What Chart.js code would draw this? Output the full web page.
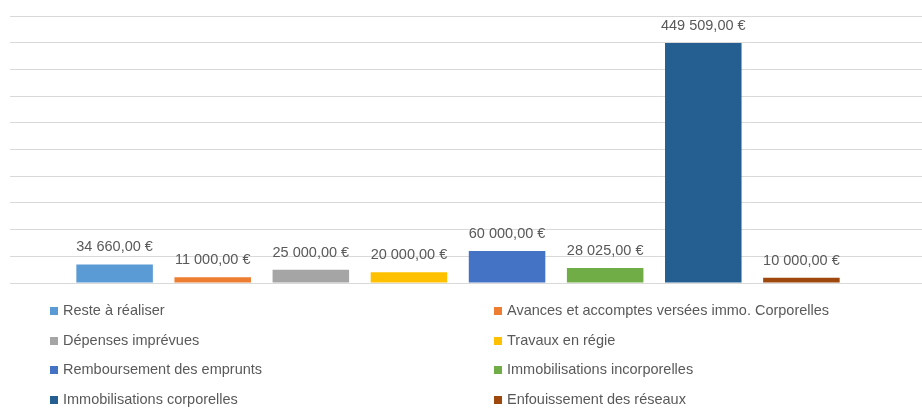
<!DOCTYPE html>
<html>
<head>
<meta charset="utf-8">
<script src="https://cdn.jsdelivr.net/npm/chart.js@4.4.1/dist/chart.umd.min.js"></script>
<style>
    html, body {
        margin: 0;
        padding: 0;
        background: #fff;
        width: 922px;
        height: 408px;
        overflow: hidden;
        font-family: "Liberation Sans", Arial, sans-serif;
    }
    #wrap {
        position: relative;
        width: 922px;
        height: 300px;
    }
    #legend {
        position: absolute;
        left: 0;
        top: 0;
        width: 922px;
        height: 408px;
        pointer-events: none;
    }
    .item {
        position: absolute;
        font-size: 14.5px;
        color: #595959;
        line-height: 16px;
        white-space: nowrap;
    }
    .item span {
        display: inline-block;
        width: 8px;
        height: 8px;
        margin-right: 5px;
        vertical-align: 0px;
    }
</style>
</head>
<body>
<div id="wrap"><canvas id="barChart"></canvas></div>
<div id="legend"></div>
<script>
var series_names = [
    "Reste à réaliser",
    "Avances et accomptes versées immo. Corporelles",
    "Dépenses imprévues",
    "Travaux en régie",
    "Remboursement des emprunts",
    "Immobilisations incorporelles",
    "Immobilisations corporelles",
    "Enfouissement des réseaux",
];
var series_values = [34660, 11000, 25000, 20000, 60000, 28025, 449509, 10000];
var series_colors = [
    "#5B9BD5",
    "#ED7D31",
    "#A5A5A5",
    "#FFC000",
    "#4472C4",
    "#70AD47",
    "#255E91",
    "#9E480E",
];

// 34660 -> "34 660,00 €"
function format_euro(v) {
    var parts = v.toFixed(2).split(".");
    var int_part = parts[0].replace(/\B(?=(\d{3})+(?!\d))/g, " ");
    return int_part + "," + parts[1] + " €";
}

var datasets = series_names.map((name, i) => ({
    label: name,
    data: [series_values[i]],
    backgroundColor: series_colors[i],
    categoryPercentage: 0.876,
    barPercentage: 0.78,
}));

// labels above each bar
var valueLabels = {
    id: "valueLabels",
    afterDatasetsDraw: function (chart) {
        var ctx = chart.ctx;
        ctx.save();
        ctx.font = "14.5px 'Liberation Sans', Arial, sans-serif";
        ctx.fillStyle = "#595959";
        ctx.textAlign = "center";
        ctx.textBaseline = "middle";
        chart.data.datasets.forEach((ds, i) => {
            var bar = chart.getDatasetMeta(i).data[0];
            ctx.fillText(format_euro(ds.data[0]), bar.x, bar.y - 17);
        });
        ctx.restore();
    },
};

var barChartCanvas = document.getElementById("barChart").getContext("2d");
new Chart(barChartCanvas, {
    type: "bar",
    data: {
        labels: [""],
        datasets: datasets,
    },
    options: {
        responsive: true,
        maintainAspectRatio: false,
        animation: false,
        layout: {
            padding: { left: 10, right: 0, top: 16, bottom: 17 },
        },
        plugins: {
            legend: { display: false },
            tooltip: { enabled: false },
        },
        scales: {
            x: {
                display: false,
            },
            y: {
                position: "right",
                min: 0,
                max: 500000,
                ticks: { display: false, stepSize: 50000 },
                border: { display: false },
                grid: {
                    color: "#D9D9D9",
                    drawTicks: true,
                    tickLength: 16,
                },
            },
        },
    },
    plugins: [valueLabels],
});

// legend in two columns
var legend = document.getElementById("legend");
series_names.forEach((name, i) => {
    var el = document.createElement("div");
    el.className = "item";
    el.style.left = (i % 2 === 0 ? 50 : 494) + "px";
    el.style.top = 302 + Math.floor(i / 2) * 29.6 + "px";
    el.innerHTML =
        '<span style="background:' + series_colors[i] + '"></span>' + name;
    legend.appendChild(el);
});
</script>
</body>
</html>
